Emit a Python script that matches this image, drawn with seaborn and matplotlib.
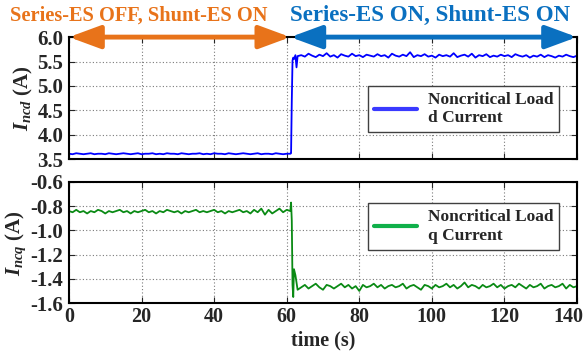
import matplotlib
matplotlib.use('Agg')
import numpy as np
import pandas as pd
import matplotlib.pyplot as plt
import matplotlib.transforms as mtransforms
from matplotlib.lines import Line2D
import seaborn as sns

# time axis (s): steady part, step transient, steady part
t_pre = list(range(0, 62))
t_step = [61.2, 61.4, 61.6, 61.8, 62.0, 62.4, 62.7, 63.0]
t_post = list(range(64, 141))

# noncritical load d current (A)
ncd_pre = [3.61, 3.60, 3.62, 3.61, 3.60, 3.61, 3.62, 3.60, 3.61, 3.61,
           3.60, 3.62, 3.61, 3.60, 3.61, 3.62, 3.61, 3.60, 3.61, 3.62,
           3.60, 3.61, 3.61, 3.62, 3.60, 3.61, 3.60, 3.62, 3.61, 3.61,
           3.60, 3.62, 3.61, 3.60, 3.61, 3.61, 3.62, 3.60, 3.61, 3.60,
           3.62, 3.61, 3.61, 3.60, 3.62, 3.61, 3.60, 3.61, 3.62, 3.61,
           3.60, 3.61, 3.62, 3.60, 3.61, 3.61, 3.60, 3.62, 3.61, 3.60,
           3.61, 3.61]
ncd_step = [3.62, 4.70, 5.52, 5.58, 5.55, 5.63, 5.38, 5.61]
ncd_post = [5.63, 5.60, 5.66, 5.62, 5.59, 5.64, 5.61, 5.67, 5.60, 5.63,
            5.58, 5.65, 5.62, 5.60, 5.66, 5.61, 5.63, 5.59, 5.64, 5.62,
            5.60, 5.65, 5.61, 5.63, 5.58, 5.66, 5.62, 5.60, 5.64, 5.61,
            5.69, 5.59, 5.63, 5.61, 5.65, 5.60, 5.62, 5.58, 5.64, 5.61,
            5.63, 5.60, 5.67, 5.59, 5.62, 5.64, 5.60, 5.66, 5.58, 5.63,
            5.61, 5.65, 5.59, 5.62, 5.60, 5.64, 5.61, 5.63, 5.59, 5.65,
            5.62, 5.60, 5.63, 5.58, 5.62, 5.60, 5.64, 5.59, 5.63, 5.61,
            5.58, 5.62, 5.60, 5.64, 5.61, 5.59, 5.62]

# noncritical load q current (A)
ncq_pre = [-0.84, -0.85, -0.83, -0.85, -0.84, -0.86, -0.84, -0.85, -0.83, -0.84,
           -0.86, -0.84, -0.85, -0.84, -0.83, -0.85, -0.84, -0.86, -0.84, -0.85,
           -0.84, -0.83, -0.85, -0.84, -0.86, -0.84, -0.85, -0.83, -0.84, -0.85,
           -0.84, -0.86, -0.84, -0.85, -0.84, -0.83, -0.85, -0.84, -0.85, -0.84,
           -0.83, -0.85, -0.84, -0.86, -0.84, -0.85, -0.84, -0.83, -0.85, -0.84,
           -0.86, -0.83, -0.85, -0.82, -0.87, -0.83, -0.86, -0.84, -0.82, -0.85,
           -0.83, -0.84]
ncq_step = [-0.77, -0.92, -1.45, -1.55, -1.32, -1.37, -1.43, -1.49]
ncq_post = [-1.47, -1.45, -1.48, -1.46, -1.44, -1.47, -1.49, -1.45, -1.46, -1.48,
            -1.46, -1.44, -1.47, -1.45, -1.48, -1.46, -1.50, -1.45, -1.47, -1.46,
            -1.44, -1.47, -1.45, -1.48, -1.46, -1.45, -1.47, -1.46, -1.44, -1.48,
            -1.46, -1.45, -1.47, -1.49, -1.45, -1.46, -1.48, -1.45, -1.47, -1.46,
            -1.44, -1.47, -1.45, -1.48, -1.46, -1.43, -1.47, -1.45, -1.46, -1.48,
            -1.45, -1.47, -1.46, -1.44, -1.47, -1.45, -1.48, -1.46, -1.45, -1.47,
            -1.44, -1.46, -1.48, -1.45, -1.47, -1.46, -1.44, -1.48, -1.46, -1.45,
            -1.47, -1.46, -1.44, -1.48, -1.45, -1.47, -1.46]

switch_time = 61
x_ticks = [0, 20, 40, 60, 80, 100, 120, 140]
d_ticks = [3.5, 4.0, 4.5, 5.0, 5.5, 6.0]
q_ticks = [-1.6, -1.4, -1.2, -1.0, -0.8, -0.6]

ORANGE = '#E8731A'
BLUE_TXT = '#0A70C0'
LINE_D = '#0000FF'
LINE_Q = '#0A8A14'


def setup_style():
    sns.set_style('ticks')
    plt.rcParams['font.family'] = ['Liberation Serif', 'DejaVu Serif']
    plt.rcParams['font.weight'] = 'bold'
    plt.rcParams['axes.labelweight'] = 'bold'
    plt.rcParams['axes.unicode_minus'] = False
    plt.rcParams['mathtext.fontset'] = 'custom'
    plt.rcParams['mathtext.it'] = 'Liberation Serif:italic:bold'
    plt.rcParams['mathtext.rm'] = 'Liberation Serif:bold'
    plt.rcParams['mathtext.bf'] = 'Liberation Serif:bold'


def style_axes(ax, yticks):
    ax.set_xlim(0, 140)
    ax.set_ylim(yticks[0], yticks[-1])
    ax.set_xticks(x_ticks)
    ax.set_yticks(yticks)
    ax.set_yticklabels(['{:.1f}'.format(v) for v in yticks])
    ax.grid(True, color='#7a7a7a', linestyle=(0, (1, 2)), linewidth=0.8)
    ax.tick_params(direction='in', top=True, right=True, length=4,
                   labelsize=15, pad=4)
    ax.tick_params(axis='x', labelsize=14.5, pad=3)
    for s in ax.spines.values():
        s.set_linewidth(1.5)
        s.set_color('black')


def main():
    setup_style()
    t = t_pre + t_step + t_post
    df = pd.DataFrame({
        'time': t,
        'ncd': ncd_pre + ncd_step + ncd_post,
        'ncq': ncq_pre + ncq_step + ncq_post,
    })

    fig = plt.figure(figsize=(5.86, 3.52), dpi=100)
    ax1 = fig.add_axes([0.1177, 0.548, 0.867, 0.3466])
    ax2 = fig.add_axes([0.1177, 0.139, 0.867, 0.344])

    sns.lineplot(data=df, x='time', y='ncd', ax=ax1, color=LINE_D,
                 linewidth=1.3, estimator=None)
    sns.lineplot(data=df, x='time', y='ncq', ax=ax2, color=LINE_Q,
                 linewidth=1.3, estimator=None)

    style_axes(ax1, d_ticks)
    style_axes(ax2, q_ticks)
    ax1.set_xticklabels([])
    ax1.set_xlabel('')
    ax2.set_xticklabels([str(v) for v in x_ticks])
    # last tick label sits a bit left, inside the figure
    last = ax2.get_xticklabels()[-1]
    last.set_transform(last.get_transform() +
                       mtransforms.ScaledTranslation(-0.09, 0, fig.dpi_scale_trans))

    ax1.set_ylabel('$I_{ncd}$ (A)', fontsize=15, labelpad=2)
    ax2.set_ylabel('$I_{ncq}$ (A)', fontsize=15, labelpad=2)
    ax2.set_xlabel('time (s)', fontsize=14.5, labelpad=2)

    # operating mode arrows on top
    ax1.annotate('', xy=(switch_time, 6.0), xytext=(0, 6.0),
                 arrowprops=dict(arrowstyle='<|-|>,head_length=1.9,head_width=0.7',
                                 color=ORANGE, lw=3.5, shrinkA=0, shrinkB=0),
                 annotation_clip=False)
    ax1.annotate('', xy=(140, 6.0), xytext=(switch_time, 6.0),
                 arrowprops=dict(arrowstyle='<|-|>,head_length=1.9,head_width=0.7',
                                 color=BLUE_TXT, lw=3.5, shrinkA=0, shrinkB=0),
                 annotation_clip=False)
    ax1.text(19.2, 1.18, 'Series-ES OFF, Shunt-ES ON', color=ORANGE,
             fontsize=14.7, fontweight='bold', ha='center', va='center',
             transform=ax1.get_xaxis_transform())
    ax1.text(99.5, 1.18, 'Series-ES ON, Shunt-ES ON', color=BLUE_TXT,
             fontsize=16.5, fontweight='bold', ha='center', va='center',
             transform=ax1.get_xaxis_transform())

    for ax, col, lab, top in [(ax1, '#3a3aff', 'Noncritical Load\nd Current', 0.60),
                              (ax2, '#10b04a', 'Noncritical Load\nq Current', 0.826)]:
        h = Line2D([0], [0], color=col, lw=3)
        leg = ax.legend([h], [lab], loc='upper left', bbox_to_anchor=(0.588, top),
                        borderaxespad=0, fancybox=False, framealpha=1,
                        edgecolor='#404040', fontsize=12.5, handlelength=2.5,
                        handletextpad=0.6, borderpad=0.35)
        leg.get_frame().set_linewidth(1.0)

    fig.savefig('out.png', dpi=100)


if __name__ == '__main__':
    main()
